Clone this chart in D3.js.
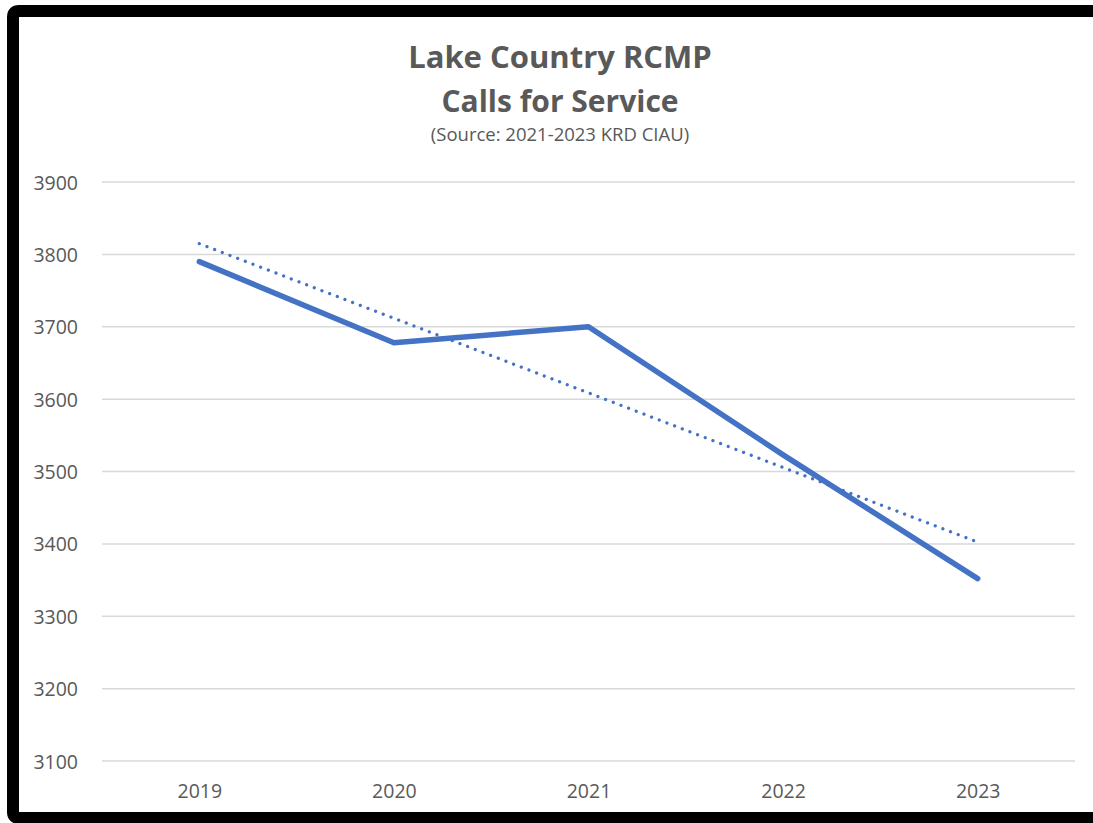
<!DOCTYPE html>
<html>
<head>
<meta charset="utf-8">
<script src="https://cdn.jsdelivr.net/npm/d3@7"></script>
<style>
  html, body { margin: 0; padding: 0; background: #fff; overflow: hidden; }
  svg { display: block; }
</style>
</head>
<body>
<svg id="chart" width="1093" height="823"></svg>
<script>
// ---- data ----
const years = ["2019", "2020", "2021", "2022", "2023"];
const calls = [3790, 3678, 3700, 3523, 3352];
const yTicks = [3100, 3200, 3300, 3400, 3500, 3600, 3700, 3800, 3900];
const titleLines = ["Lake Country RCMP", "Calls for Service"];
const subtitle = "(Source: 2021-2023 KRD CIAU)";

const W = 1093, H = 823;
const svg = d3.select("#chart");
const FONT = "'Open Sans', 'Liberation Sans', sans-serif";
const TEXT = "#595959";
const BLUE = "#4472C4";

// background + frame (top, left, bottom bars; right edge is off-picture)
svg.append("rect").attr("x", 0).attr("y", 0).attr("width", W).attr("height", H).attr("fill", "#fff");
svg.append("path")
  .attr("d", `M${W},11 L19,11 Q13,11 13,17 L13,812 Q13,818 19,818 L${W},818`)
  .attr("fill", "none").attr("stroke", "#000").attr("stroke-width", 12);

const x = d3.scalePoint().domain(years).range([102, 1075]).padding(0.5);
const y = d3.scaleLinear().domain([3100, 3900]).range([761, 182]);

// gridlines
svg.append("g").selectAll("line").data(yTicks).join("line")
  .attr("x1", 102).attr("x2", 1075)
  .attr("y1", d => y(d)).attr("y2", d => y(d))
  .attr("stroke", "#d9d9d9").attr("stroke-width", 1.5);

// y axis labels
const yAxis = d3.axisLeft(y).tickValues(yTicks).tickSize(0).tickPadding(0).tickFormat(d3.format("d"));
const gy = svg.append("g").attr("transform", "translate(78,0)").call(yAxis);
gy.select(".domain").remove();
gy.selectAll("text").attr("font-family", FONT).attr("font-size", 19.5).attr("fill", TEXT).attr("dy", "0.36em");

// x axis labels
const xAxis = d3.axisBottom(x).tickSize(0).tickPadding(0);
const gx = svg.append("g").attr("transform", "translate(0,784)").call(xAxis);
gx.select(".domain").remove();
gx.selectAll("text").attr("font-family", FONT).attr("font-size", 19.5).attr("fill", TEXT).attr("dy", "0.71em");

// linear trendline (least squares, as in spreadsheet trendline)
const n = calls.length;
const idx = d3.range(n);
const mx = d3.mean(idx), my = d3.mean(calls);
const slope = d3.sum(idx, i => (i - mx) * (calls[i] - my)) / d3.sum(idx, i => (i - mx) ** 2);
const icpt = my - slope * mx;
const trend = [0, n - 1].map(i => ({ year: years[i], v: icpt + slope * i }));

svg.append("path")
  .datum(trend)
  .attr("d", d3.line().x(d => x(d.year)).y(d => y(d.v)))
  .attr("fill", "none").attr("stroke", BLUE).attr("stroke-width", 3.3)
  .attr("stroke-linecap", "round").attr("stroke-dasharray", "0.01 8.2");

// main series
svg.append("path")
  .datum(years.map((yr, i) => ({ year: yr, v: calls[i] })))
  .attr("d", d3.line().x(d => x(d.year)).y(d => y(d.v)))
  .attr("fill", "none").attr("stroke", BLUE).attr("stroke-width", 5.5)
  .attr("stroke-linecap", "round").attr("stroke-linejoin", "round");

// titles
const cx = 560;
svg.append("text").attr("x", cx).attr("y", 68).attr("text-anchor", "middle")
  .attr("font-family", FONT).attr("font-weight", 700).attr("font-size", 31).attr("fill", TEXT)
  .text(titleLines[0]);
svg.append("text").attr("x", cx).attr("y", 112).attr("text-anchor", "middle")
  .attr("font-family", FONT).attr("font-weight", 700).attr("font-size", 30).attr("fill", TEXT)
  .text(titleLines[1]);
svg.append("text").attr("x", cx).attr("y", 141).attr("text-anchor", "middle")
  .attr("font-family", FONT).attr("font-size", 18.5).attr("fill", TEXT)
  .text(subtitle);
</script>
</body>
</html>
